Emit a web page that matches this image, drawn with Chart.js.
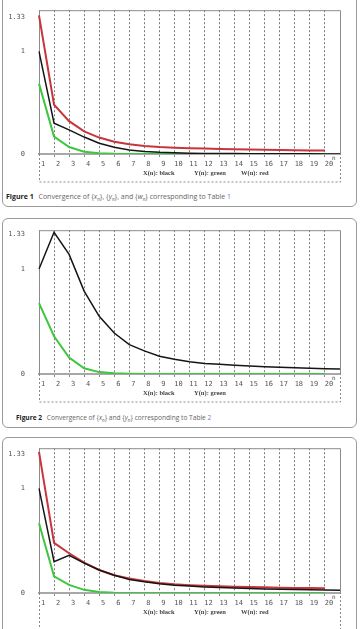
<!DOCTYPE html>
<html>
<head>
<meta charset="utf-8">
<script src="https://cdn.jsdelivr.net/npm/chart.js@4.4.1/dist/chart.umd.min.js"></script>
<style>
  body{margin:0;background:#fff;width:363px;height:629px;overflow:hidden;position:relative;font-family:"Open Sans",sans-serif;}
  .panel{position:absolute;left:2px;width:355px;border:1px solid #9a9a9a;border-radius:6px;box-sizing:border-box;}
  .cap{position:absolute;font-size:6.6px;color:#666;white-space:nowrap;}
  .cap b{color:#222;font-weight:700;margin-right:3px;}
  .cap .ref{color:#6b84c9;}
  canvas{position:absolute;left:0;}
</style>
</head>
<body>
<div class="panel" style="top:-12px;height:219px;"></div>
<div class="panel" style="top:218px;height:210px;"></div>
<div class="panel" style="top:437px;height:220px;"></div>

<canvas id="c1" width="363" height="190" style="top:0px"></canvas>
<canvas id="c2" width="363" height="190" style="top:220px"></canvas>
<canvas id="c3" width="363" height="191" style="top:438px"></canvas>

<div class="cap" style="left:6px;top:192px;font-size:7px;"><b>Figure 1</b> Convergence of {<i>x<sub style="font-size:4.5px">n</sub></i>}, {<i>y<sub style="font-size:4.5px">n</sub></i>}, and {<i>w<sub style="font-size:4.5px">n</sub></i>} corresponding to Table <span class="ref">1</span></div>
<div class="cap" style="left:16px;top:413px;"><b>Figure 2</b> Convergence of {<i>x<sub style="font-size:4.5px">n</sub></i>} and {<i>y<sub style="font-size:4.5px">n</sub></i>} corresponding to Table <span class="ref">2</span></div>

<script>
// iteration index n = 1..21 (last slot only reached by the black curve)
const steps = ['1','2','3','4','5','6','7','8','9','10','11','12','13','14','15','16','17','18','19','20','21'];
const yTickValues = [0, 1, 1.33];

// Figure 1 (Table 1)
const fig1X = [1.0, 0.30, 0.235, 0.165, 0.105, 0.065, 0.04, 0.025, 0.016, 0.011, 0.008, 0.006, 0.005, 0.004, 0.003, 0.003, 0.002, 0.002, 0.002, 0.001, 0.001];
const fig1Y = [0.685, 0.17, 0.068, 0.022, 0.007, 0.002, 0.001, 0.001, 0, 0, 0, 0, 0, 0, 0, 0, 0, 0, 0, 0];
const fig1W = [1.35, 0.48, 0.32, 0.22, 0.16, 0.12, 0.095, 0.078, 0.068, 0.062, 0.057, 0.053, 0.049, 0.046, 0.043, 0.041, 0.039, 0.037, 0.035, 0.033];

// Figure 2 (Table 2)
const fig2X = [1.0, 1.35, 1.14, 0.79, 0.55, 0.39, 0.28, 0.22, 0.17, 0.14, 0.116, 0.10, 0.092, 0.083, 0.076, 0.07, 0.064, 0.06, 0.055, 0.05, 0.048];
const fig2Y = [0.675, 0.36, 0.156, 0.055, 0.018, 0.006, 0.002, 0.001, 0, 0, 0, 0, 0, 0, 0, 0, 0, 0, 0, 0];

// Figure 3
const fig3X = [1.0, 0.30, 0.36, 0.286, 0.22, 0.17, 0.13, 0.107, 0.089, 0.075, 0.066, 0.058, 0.052, 0.047, 0.043, 0.039, 0.036, 0.033, 0.031, 0.029, 0.027];
const fig3Y = [0.667, 0.16, 0.077, 0.03, 0.01, 0.003, 0.001, 0, 0, 0, 0, 0, 0, 0, 0, 0, 0, 0, 0, 0];
const fig3W = [1.35, 0.48, 0.38, 0.29, 0.22, 0.17, 0.14, 0.114, 0.095, 0.083, 0.075, 0.069, 0.064, 0.06, 0.057, 0.054, 0.051, 0.049, 0.047, 0.046];

const legend3 = ['X(n): black', 'Y(n): green', 'W(n): red'];
const legend2 = ['X(n): black', 'Y(n): green'];

const tickFont = {family: '"DejaVu Sans Mono", monospace', size: 7};

function line(data, color, width){
  return {data: data, borderColor: color, borderWidth: width, pointRadius: 0, tension: 0, fill: false};
}

// frame, dashed label box, "n" marker and the series key under the axis
function framePlugin(legend, boxDepth){
  return {
    id: 'frame',
    beforeDatasetsDraw(chart){
      const a = chart.chartArea, c = chart.ctx;
      c.save();
      c.strokeStyle = '#8c8c8c';
      c.lineWidth = 1;
      c.beginPath();
      c.moveTo(a.left, a.top + 0.5); c.lineTo(a.right + 0.5, a.top + 0.5);
      c.lineTo(a.right + 0.5, a.bottom);
      c.stroke();
      c.strokeStyle = '#8a8a8a';
      c.setLineDash([2, 2]);
      c.beginPath();
      c.moveTo(a.left + 0.5, a.bottom); c.lineTo(a.left + 0.5, a.bottom + boxDepth);
      c.lineTo(a.right + 0.5, a.bottom + boxDepth);
      c.lineTo(a.right + 0.5, a.bottom);
      c.stroke();
      c.restore();
    },
    afterDraw(chart){
      const a = chart.chartArea, c = chart.ctx;
      c.save();
      c.fillStyle = '#444';
      c.font = '6px "DejaVu Sans Mono", monospace';
      c.textBaseline = 'middle';
      c.fillText('n', a.right - 8, a.bottom + 4);
      c.font = 'bold 6.5px "Liberation Serif", serif';
      const xs = [104, 155, 202];
      legend.forEach((t, i) => c.fillText(t, a.left + xs[i], a.bottom + 19.5));
      c.restore();
    }
  };
}

function makeChart(id, datasets, legend, topPad, bottomDepth, yMax, boxDepth){
  const el = document.getElementById(id);
  return new Chart(el, {
    type: 'line',
    data: {labels: steps, datasets: datasets},
    options: {
      responsive: false,
      animation: false,
      layout: {padding: {left: 0, right: 23, top: topPad, bottom: 0}},
      plugins: {legend: {display: false}, tooltip: {enabled: false}},
      scales: {
        x: {
          afterFit(s){ s.height = bottomDepth; },
          grid: {
            color: ctx => (ctx.index === 0 || ctx.index === 20) ? 'rgba(0,0,0,0)' : '#7a7a7a',
            tickColor: ctx => (ctx.index === 0 || ctx.index === 20) ? 'rgba(0,0,0,0)' : '#888',
            lineWidth: 1,
            tickLength: 5,
            tickBorderDash: [2, 2]
          },
          border: {display: true, color: '#a8a8a8', width: 2, dash: [2, 2]},
          ticks: {
            autoSkip: false, maxRotation: 0, padding: 1, labelOffset: 4,
            color: '#555', font: tickFont,
            callback: (v, i) => i === 20 ? '' : steps[i]
          }
        },
        y: {
          min: 0, max: yMax,
          afterFit(s){ s.width = 39; },
          afterBuildTicks(s){ s.ticks = yTickValues.map(v => ({value: v})); },
          grid: {display: false},
          border: {display: true, color: '#8c8c8c', width: 1},
          ticks: {padding: 6, color: '#555', font: tickFont, callback: v => String(v)}
        }
      }
    },
    plugins: [framePlugin(legend, boxDepth)]
  });
}

makeChart('c1', [
  line(fig1X, '#151515', 1.5),
  line(fig1Y, '#3fc63f', 2),
  line(fig1W, '#c8353a', 2)
], legend3, 3, 36, 1.40, 28);

makeChart('c2', [
  line(fig2X, '#151515', 1.5),
  line(fig2Y, '#3fc63f', 2)
], legend2, 5, 36, 1.37, 28);

makeChart('c3', [
  line(fig3X, '#151515', 1.5),
  line(fig3Y, '#3fc63f', 2),
  line(fig3W, '#c8353a', 2)
], legend3, 5, 36, 1.385, 40);
</script>
</body>
</html>
